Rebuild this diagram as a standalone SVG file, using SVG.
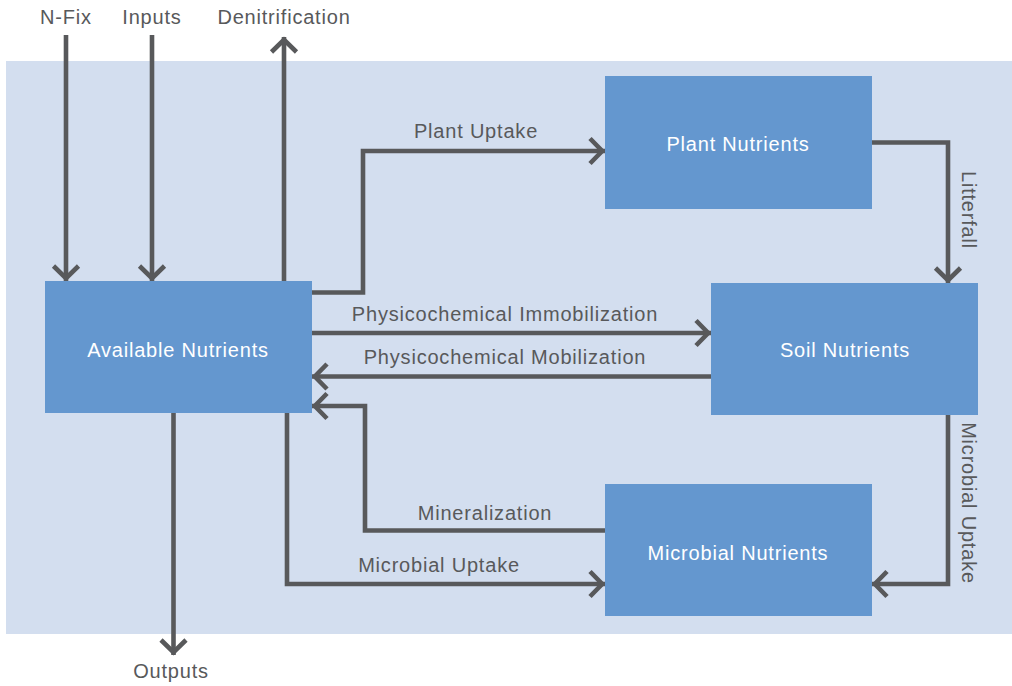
<svg xmlns="http://www.w3.org/2000/svg" width="1012" height="686" viewBox="0 0 1012 686">
<defs>
<style>
.node{fill:#6497cf}
.nt{font-family:"Liberation Sans",Arial,sans-serif;font-size:20px;fill:#ffffff;text-anchor:middle;letter-spacing:0.8px}
.lt{font-family:"Liberation Sans",Arial,sans-serif;font-size:20px;fill:#58595b;text-anchor:middle;letter-spacing:0.8px}
.c{fill:none;stroke:#58595b;stroke-width:4.6;stroke-linejoin:miter}
</style>
<marker id="arr" markerUnits="userSpaceOnUse" markerWidth="40" markerHeight="40" viewBox="-30 -20 40 40" refX="0" refY="0" orient="auto" overflow="visible">
<path d="M-15,-12.5 L-2.8,0 L-15,12.5" fill="none" stroke="#58595b" stroke-width="4.6" stroke-linejoin="miter"/>
</marker>
</defs>
<rect x="0" y="0" width="1012" height="686" fill="#ffffff"/>
<rect x="6" y="61" width="1006" height="573" fill="#d3deef"/>

<g id="connectors">
<path class="c" d="M66,35 V281" marker-end="url(#arr)"/>
<path class="c" d="M152,35 V281" marker-end="url(#arr)"/>
<path class="c" d="M284,281 V37" marker-end="url(#arr)"/>
<path class="c" d="M312,292.5 H363 V151 H605" marker-end="url(#arr)"/>
<path class="c" d="M312,333 H711" marker-end="url(#arr)"/>
<path class="c" d="M711,376.5 H312" marker-end="url(#arr)"/>
<path class="c" d="M605,530.5 H365 V406 H312" marker-end="url(#arr)"/>
<path class="c" d="M287,413 V584 H605" marker-end="url(#arr)"/>
<path class="c" d="M173.5,413 V655" marker-end="url(#arr)"/>
<path class="c" d="M872,142.5 H948 V283" marker-end="url(#arr)"/>
<path class="c" d="M948,415 V584 H872" marker-end="url(#arr)"/>
</g>

<g id="labels">
<text class="lt" x="66" y="24">N-Fix</text>
<text class="lt" x="152" y="24">Inputs</text>
<text class="lt" x="284" y="24">Denitrification</text>
<text class="lt" x="476" y="138">Plant Uptake</text>
<text class="lt" x="505" y="321">Physicochemical Immobilization</text>
<text class="lt" x="505" y="364">Physicochemical Mobilization</text>
<text class="lt" x="485" y="520">Mineralization</text>
<text class="lt" x="439" y="572">Microbial Uptake</text>
<text class="lt" x="171" y="678">Outputs</text>
<text class="lt" transform="translate(962,210) rotate(90)">Litterfall</text>
<text class="lt" transform="translate(962,503) rotate(90)">Microbial Uptake</text>
</g>

<g id="available">
<rect class="node" x="45" y="281" width="267" height="132"/>
<text class="nt" x="178" y="357">Available Nutrients</text>
</g>
<g id="plant">
<rect class="node" x="605" y="76" width="267" height="133"/>
<text class="nt" x="738" y="151">Plant Nutrients</text>
</g>
<g id="soil">
<rect class="node" x="711" y="283" width="267" height="132"/>
<text class="nt" x="845" y="357">Soil Nutrients</text>
</g>
<g id="microbial">
<rect class="node" x="605" y="484" width="267" height="132"/>
<text class="nt" x="738" y="560">Microbial Nutrients</text>
</g>
</svg>
